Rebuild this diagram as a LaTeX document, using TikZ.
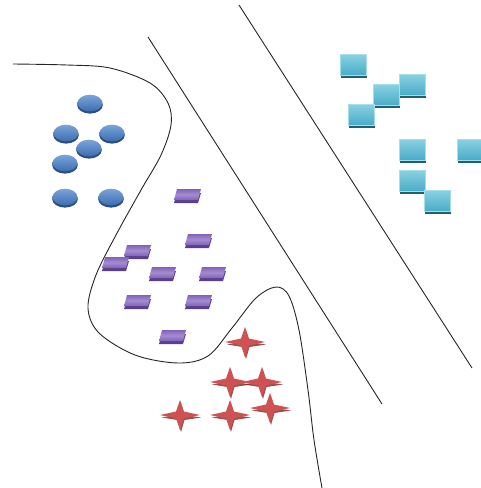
\documentclass[tikz,border=0pt]{standalone}
\definecolor{bluetop}{HTML}{7AA5DA}
\definecolor{bluebot}{HTML}{3E6DB0}
\definecolor{blueshadow}{HTML}{2A4E86}
\definecolor{purptop}{HTML}{A48CD0}
\definecolor{purpbot}{HTML}{8262B8}
\definecolor{purpdark}{HTML}{5A3F8E}
\definecolor{redstar}{HTML}{CF5252}
\definecolor{redshadow}{HTML}{7E2626}
\definecolor{cyantop}{HTML}{8BD1E2}
\definecolor{cyanbot}{HTML}{48ADC8}
\definecolor{cyandark}{HTML}{235E6E}
\definecolor{cyanedge}{HTML}{A6DEEB}
\tikzset{
  boundary/.style={draw=black!85, line width=0.9pt},
  blueell/.pic={
    \fill[blueshadow] (0,2) ellipse (12.8 and 8.6);
    \shade[top color=bluetop,bottom color=bluebot] (0,0) ellipse (12.5 and 8.3);
  },
  purpslab/.pic={
    \fill[purpdark] (-10,-4) -- (14,-4) -- (11,6) -- (-13,6) -- cycle;
    \shade[top color=purpbot,bottom color=purpbot,middle color=purptop] (-10,-8) -- (14,-8) -- (11,3) -- (-13,3) -- cycle;
  },
  redstarpic/.pic={
    \fill[redshadow,opacity=0.8] (-18,2.5) -- (-3.5,0) -- (1,-12) -- (4.5,0) -- (21,2.5) -- (4.5,5) -- (1,17) -- (-2.5,5) -- cycle;
    \fill[redstar] (-20,0) -- (-4,-3.5) -- (0,-15) -- (4,-3.5) -- (20,0) -- (4,3.5) -- (0,15) -- (-4,3.5) -- cycle;
  },
  cyansq/.pic={
    \fill[cyandark] (-12,-8) rectangle (13.5,13);
    \shade[top color=cyantop,bottom color=cyanbot,draw=cyanedge,line width=0.6pt] (-13,-11) rectangle (13,10);
  }
}
\begin{document}
\begin{tikzpicture}[x=1pt,y=-1pt]
\useasboundingbox (0,0) rectangle (480,488);
% separating lines
\coordinate (l1a) at (148,37);
\coordinate (l1b) at (382,404);
\coordinate (l2a) at (239,5);
\coordinate (l2b) at (472,368);
\draw[boundary] (l1a) -- (l1b);
\draw[boundary] (l2a) -- (l2b);
% curved boundary
\draw[boundary] plot[smooth, tension=0.55] coordinates {
 (13,64) (67,65) (110,68) (150,83) (168,103) (171,125) (161,155) (141,190)
 (116,235) (96,275) (88,308) (99,333) (135,355) (178,363) (208,356) (232,328)
 (256,298) (276,287) (289,296) (299,330) (308,390) (314,440) (322,488)};
% blue ellipses
\foreach \p in {(90,103),(66,133),(112,133),(89,148),(65,163),(65,197),(111,197)}
  \pic at \p {blueell};
% purple slabs
\foreach \p in {(187,197),(198,242),(137,253),(115,265),(162,275),(212,275),(137,303),(198,303),(172,338)}
  \pic at \p {purpslab};
% red stars
\foreach \p in {(245,342),(230,382),(262,382),(180,415),(230,415),(270,408)}
  \pic at \p {redstarpic};
% cyan squares
\foreach \p in {(353,65),(386,95),(412,85),(361,115),(412,150),(470,150),(412,181),(437,201)}
  \pic at \p {cyansq};
\end{tikzpicture}
\end{document}
